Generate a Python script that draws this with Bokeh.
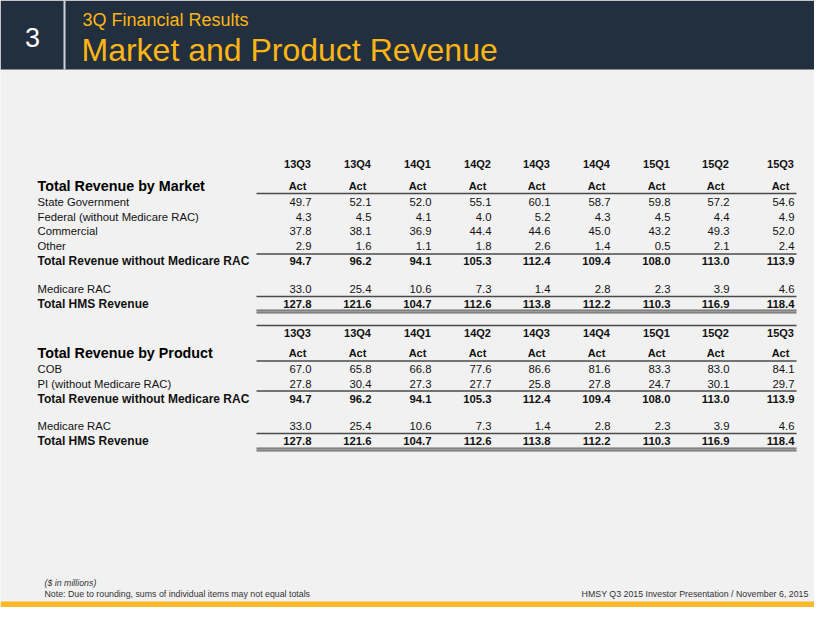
from bokeh.plotting import figure
from bokeh.models import Range1d, ColumnDataSource
from bokeh.core.properties import value
from bokeh.embed import file_html
from bokeh.resources import INLINE

# ---------------- data ----------------
quarters = ["13Q3", "13Q4", "14Q1", "14Q2", "14Q3", "14Q4", "15Q1", "15Q2", "15Q3"]
status = ["Act"] * 9

market_labels = ["State Government", "Federal (without Medicare RAC)", "Commercial", "Other"]
state_government = [49.7, 52.1, 52.0, 55.1, 60.1, 58.7, 59.8, 57.2, 54.6]
federal_wo_rac = [4.3, 4.5, 4.1, 4.0, 5.2, 4.3, 4.5, 4.4, 4.9]
commercial = [37.8, 38.1, 36.9, 44.4, 44.6, 45.0, 43.2, 49.3, 52.0]
other = [2.9, 1.6, 1.1, 1.8, 2.6, 1.4, 0.5, 2.1, 2.4]

product_labels = ["COB", "PI (without Medicare RAC)"]
cob = [67.0, 65.8, 66.8, 77.6, 86.6, 81.6, 83.3, 83.0, 84.1]
pi_wo_rac = [27.8, 30.4, 27.3, 27.7, 25.8, 27.8, 24.7, 30.1, 29.7]

total_wo_rac = [94.7, 96.2, 94.1, 105.3, 112.4, 109.4, 108.0, 113.0, 113.9]
medicare_rac = [33.0, 25.4, 10.6, 7.3, 1.4, 2.8, 2.3, 3.9, 4.6]
total_hms = [127.8, 121.6, 104.7, 112.6, 113.8, 112.2, 110.3, 116.9, 118.4]

# ---------------- layout ----------------
PW, PH = 814, 607
FONT = value("Liberation Sans")
col_right = [311, 371, 431, 491, 550, 610, 670, 729, 794]
LINE_X0, LINE_X1 = 256, 796
LABEL_X = 37

p = figure(width=PW, height=PH, output_backend="svg", toolbar_location=None,
           x_range=Range1d(0, PW), y_range=Range1d(PH, 0),
           min_border=0, min_border_left=0, min_border_right=0,
           min_border_top=0, min_border_bottom=0)
p.axis.visible = False
p.grid.visible = False
p.outline_line_color = None
p.background_fill_color = "#f1f1f1"
p.border_fill_color = "#f1f1f1"

# header band
p.quad(left=[0], right=[PW], top=[0], bottom=[69], fill_color="#222f3e", line_color=None)
p.quad(left=[63], right=[65], top=[0], bottom=[69], fill_color="#cfd3d8", line_color=None)
p.text(x=[32], y=[37], text=["3"], text_color="#ffffff", text_font=FONT,
       text_font_size="27px", text_align="center", text_baseline="middle")
p.text(x=[82], y=[19], text=["3Q Financial Results"], text_color="#fdb515", text_font=FONT,
       text_font_size="18px", text_align="left", text_baseline="middle")
p.text(x=[81], y=[49], text=["Market and Product Revenue"], text_color="#fdb515", text_font=FONT,
       text_font_size="32px", text_align="left", text_baseline="middle")

# footer band
p.quad(left=[0], right=[PW], top=[601], bottom=[PH], fill_color="#fbb829", line_color=None)
p.text(x=[44], y=[582], text=["($ in millions)"], text_color="#333333", text_font=FONT,
       text_font_size="8.8px", text_font_style="italic", text_align="left", text_baseline="middle")
p.text(x=[44], y=[593], text=["Note: Due to rounding, sums of individual items may not equal totals"],
       text_color="#333333", text_font=FONT, text_font_size="8.8px",
       text_align="left", text_baseline="middle")
p.text(x=[808], y=[593], text=["HMSY Q3 2015 Investor Presentation / November 6, 2015"],
       text_color="#333333", text_font=FONT, text_font_size="8.8px",
       text_align="right", text_baseline="middle")

lab_norm = dict(x=[], y=[], t=[])
val_norm = dict(x=[], y=[], t=[])
lab_bold = dict(x=[], y=[], t=[])
val_bold = dict(x=[], y=[], t=[])
heads = dict(x=[], y=[], t=[])
hlines = []
dlines = []


def add_row(y, label, vals, is_bold):
    lab = lab_bold if is_bold else lab_norm
    val = val_bold if is_bold else val_norm
    lab["x"].append(LABEL_X); lab["y"].append(y); lab["t"].append(label)
    for i, v in enumerate(vals):
        val["x"].append(col_right[i]); val["y"].append(y); val["t"].append(f"{v:.1f}")


def table(title, y_q, y_act, rows, y_line_act, y_line_total, y_total, y_rac, y_line_hms, y_hms, y_dbl, top_line=None):
    for i in range(len(quarters)):
        heads["x"].append(col_right[i] - 14); heads["y"].append(y_q); heads["t"].append(quarters[i])
        heads["x"].append(col_right[i] - 14); heads["y"].append(y_act); heads["t"].append(status[i])
    p.text(x=[LABEL_X], y=[y_act], text=[title], text_color="#000000", text_font=FONT,
           text_font_size="14.3px", text_font_style="bold", text_align="left", text_baseline="middle")
    for (yy, lab, vals) in rows:
        add_row(yy, lab, vals, False)
    add_row(y_total, "Total Revenue without Medicare RAC", total_wo_rac, True)
    add_row(y_rac, "Medicare RAC", medicare_rac, False)
    add_row(y_hms, "Total HMS Revenue", total_hms, True)
    hlines.extend([y_line_act, y_line_total, y_line_hms])
    if top_line is not None:
        hlines.append(top_line)
    dlines.append(y_dbl)


table("Total Revenue by Market", 163, 185,
      [(201, market_labels[0], state_government), (216, market_labels[1], federal_wo_rac),
       (230, market_labels[2], commercial), (245, market_labels[3], other)],
      193, 253.5, 260, 288, 296, 303, 311)

table("Total Revenue by Product", 332, 352,
      [(368, product_labels[0], cob), (383, product_labels[1], pi_wo_rac)],
      360.5, 390.5, 398, 425, 433, 440, 449, top_line=325)

# rules
p.segment(x0=[LINE_X0] * len(hlines), x1=[LINE_X1] * len(hlines), y0=hlines, y1=hlines,
          line_color="#4a4a4a", line_width=1.3)
p.quad(left=[LINE_X0] * len(dlines), right=[LINE_X1] * len(dlines),
       top=[d - 1.5 for d in dlines], bottom=[d + 1.5 for d in dlines],
       fill_color="#9a9a9a", line_color=None)
p.segment(x0=[LINE_X0] * len(dlines) * 2, x1=[LINE_X1] * len(dlines) * 2,
          y0=[d - 1.5 for d in dlines] + [d + 1.5 for d in dlines],
          y1=[d - 1.5 for d in dlines] + [d + 1.5 for d in dlines],
          line_color="#6a6a6a", line_width=1)

# texts
p.text(x="x", y="y", text="t", source=ColumnDataSource(lab_norm), text_color="#111111",
       text_font=FONT, text_font_size="11.3px", text_align="left", text_baseline="middle")
p.text(x="x", y="y", text="t", source=ColumnDataSource(val_norm), text_color="#111111",
       text_font=FONT, text_font_size="11.3px", text_align="right", text_baseline="middle")
p.text(x="x", y="y", text="t", source=ColumnDataSource(lab_bold), text_color="#111111",
       text_font=FONT, text_font_size="12px", text_font_style="bold",
       text_align="left", text_baseline="middle")
p.text(x="x", y="y", text="t", source=ColumnDataSource(val_bold), text_color="#111111",
       text_font=FONT, text_font_size="11.3px", text_font_style="bold",
       text_align="right", text_baseline="middle")
p.text(x="x", y="y", text="t", source=ColumnDataSource(heads), text_color="#111111",
       text_font=FONT, text_font_size="11px", text_font_style="bold",
       text_align="center", text_baseline="middle")

open("out.html", "w").write(file_html(p, INLINE))
